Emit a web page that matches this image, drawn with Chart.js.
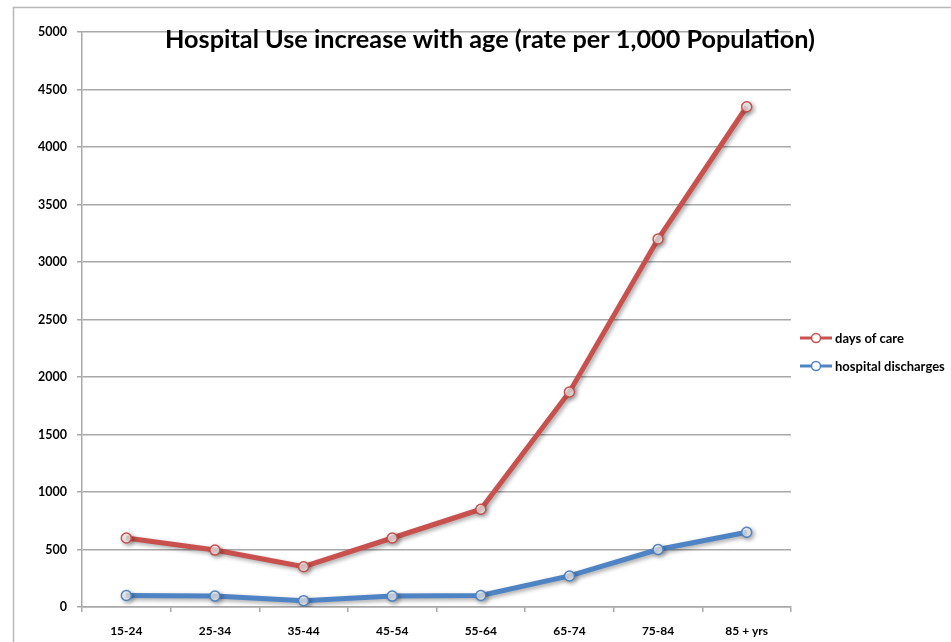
<!DOCTYPE html>
<html>
<head>
<meta charset="utf-8">
<script src="https://cdn.jsdelivr.net/npm/chart.js@4/dist/chart.umd.min.js"></script>
<style>
  html, body { margin: 0; padding: 0; background: #fff; }
  #wrap { width: 951px; height: 642px; position: relative; }
</style>
</head>
<body>
<div id="wrap"><canvas id="chart" width="951" height="642"></canvas></div>
<script>
// Age groups along the x axis
const ageGroups = ['15-24', '25-34', '35-44', '45-54', '55-64', '65-74', '75-84', '85 + yrs'];
// Rates per 1,000 population
const daysOfCare = [600, 495, 350, 600, 850, 1870, 3200, 4350];
const hospitalDischarges = [100, 95, 55, 95, 100, 270, 500, 650];
// Y axis range and step
const yMin = 0;
const yMax = 5000;
const yStep = 500;

const titleText = 'Hospital Use increase with age (rate per 1,000 Population)';
const RED = '#c8504d';
const BLUE = '#4f84c4';
const GRID = '#a8a8a8';
const FONT = 'Lato, "Open Sans", sans-serif';

// Outer frame and white background
const framePlugin = {
  id: 'frame',
  beforeDraw(chart) {
    const ctx = chart.ctx;
    ctx.save();
    ctx.fillStyle = '#fff';
    ctx.fillRect(0, 0, chart.width, chart.height);
    ctx.strokeStyle = '#b8b8b8';
    ctx.lineWidth = 1.5;
    ctx.strokeRect(13.5, 7.5, chart.width + 20, chart.height + 20);
    ctx.restore();
  }
};

// Soft drop shadow under the series lines
const shadowPlugin = {
  id: 'lineShadow',
  beforeDatasetDraw(chart) {
    const ctx = chart.ctx;
    ctx.save();
    ctx.shadowColor = 'rgba(0,0,0,0.35)';
    ctx.shadowBlur = 4;
    ctx.shadowOffsetX = 2;
    ctx.shadowOffsetY = 2;
  },
  afterDatasetDraw(chart) {
    chart.ctx.restore();
  }
};

// Title drawn over the top of the plot, sized to span 650px
const titlePlugin = {
  id: 'overTitle',
  afterDraw(chart) {
    const ctx = chart.ctx;
    ctx.save();
    ctx.font = 'bold 22px ' + FONT;
    const w = ctx.measureText(titleText).width;
    const size = 22 * 650 / w;
    ctx.font = 'bold ' + size.toFixed(2) + 'px ' + FONT;
    ctx.fillStyle = '#000';
    ctx.textAlign = 'center';
    ctx.textBaseline = 'middle';
    ctx.fillText(titleText, 490, 40);
    ctx.restore();
  }
};

// Legend on the right: line segment with a hollow marker, then the label
const sideLegendPlugin = {
  id: 'sideLegend',
  afterDraw(chart) {
    const ctx = chart.ctx;
    const x0 = 800, x1 = 832;
    const rows = [338, 366];
    ctx.save();
    chart.data.datasets.forEach((ds, i) => {
      const y = rows[i];
      ctx.strokeStyle = ds.borderColor;
      ctx.lineWidth = 3;
      ctx.beginPath();
      ctx.moveTo(x0, y);
      ctx.lineTo(x1, y);
      ctx.stroke();
      ctx.beginPath();
      ctx.arc((x0 + x1) / 2, y, 4.5, 0, Math.PI * 2);
      ctx.fillStyle = '#fff';
      ctx.fill();
      ctx.lineWidth = 1.5;
      ctx.stroke();
      ctx.fillStyle = '#000';
      ctx.font = 'bold 13px ' + FONT;
      ctx.textAlign = 'left';
      ctx.textBaseline = 'middle';
      ctx.fillText(ds.label, 835, y + 1);
    });
    ctx.restore();
  }
};

new Chart(document.getElementById('chart'), {
  type: 'line',
  data: {
    labels: ageGroups,
    datasets: [
      {
        label: 'days of care',
        data: daysOfCare,
        borderColor: RED,
        backgroundColor: RED,
        borderWidth: 5,
        pointRadius: 5,
        pointBorderWidth: 1.5,
        pointBackgroundColor: 'rgba(255,255,255,0.75)',
        pointBorderColor: RED,
        tension: 0
      },
      {
        label: 'hospital discharges',
        data: hospitalDischarges,
        borderColor: BLUE,
        backgroundColor: BLUE,
        borderWidth: 5,
        pointRadius: 5,
        pointBorderWidth: 1.5,
        pointBackgroundColor: 'rgba(255,255,255,0.75)',
        pointBorderColor: BLUE,
        tension: 0
      }
    ]
  },
  options: {
    responsive: false,
    animation: false,
    devicePixelRatio: 1,
    layout: { padding: { left: 0, right: 160, top: 32, bottom: 0 } },
    plugins: {
      legend: { display: false },
      title: { display: false },
      tooltip: { enabled: false }
    },
    scales: {
      x: {
        offset: true,
        grid: {
          offset: true,
          drawOnChartArea: false,
          drawTicks: true,
          tickLength: 5,
          color: GRID,
          lineWidth: 1.5
        },
        border: { color: GRID, width: 1.5 },
        ticks: {
          color: '#000',
          font: { family: FONT, size: 12, weight: 'bold' },
          padding: 12,
          maxRotation: 0,
          autoSkip: false
        },
        afterFit(scale) { scale.height = 35; }
      },
      y: {
        min: yMin,
        max: yMax,
        grid: {
          color: GRID,
          lineWidth: 1.5,
          tickLength: 5
        },
        border: { color: GRID, width: 1.5 },
        ticks: {
          stepSize: yStep,
          color: '#000',
          font: { family: FONT, size: 12.5, weight: 'bold' },
          padding: 10,
          callback: (v) => String(v)
        },
        afterFit(scale) { scale.width = 82; }
      }
    }
  },
  plugins: [framePlugin, shadowPlugin, titlePlugin, sideLegendPlugin]
});
</script>
</body>
</html>
